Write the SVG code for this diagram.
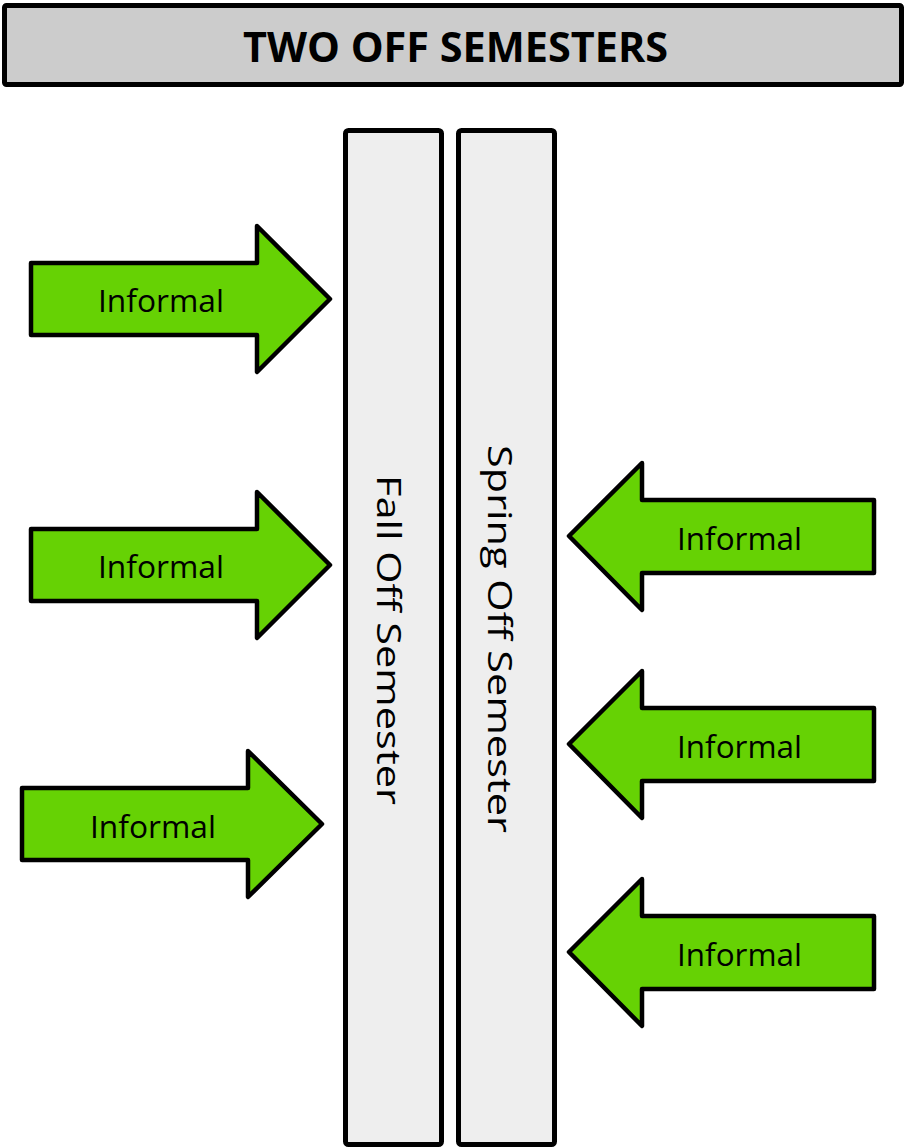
<svg xmlns="http://www.w3.org/2000/svg" width="906" height="1148" viewBox="0 0 906 1148">
<style>
.arrow{fill:#66d204;stroke:#000;stroke-width:4.5;stroke-linejoin:round}
.bar{fill:#eeeeee;stroke:#000;stroke-width:5}
.lbl{font-family:"Open Sans","DejaVu Sans",sans-serif;font-size:31px;fill:#000}
.vt{font-family:"Open Sans","DejaVu Sans",sans-serif;font-size:33px;fill:#000}
</style>
<rect width="906" height="1148" fill="#fff"/>
<g id="title">
<rect x="4.5" y="5.5" width="897" height="79" fill="#cccccc" stroke="#000" stroke-width="5" rx="2"/>
<text x="455.5" y="62" text-anchor="middle" textLength="425" lengthAdjust="spacingAndGlyphs" style="font-family:'Open Sans','DejaVu Sans',sans-serif;font-weight:bold;font-size:41px">TWO OFF SEMESTERS</text>
</g>
<g id="fall">
<rect class="bar" x="345.5" y="130.5" width="96" height="1014" rx="3"/>
<text class="vt" transform="translate(377,475) rotate(90)" textLength="330" lengthAdjust="spacingAndGlyphs">Fall Off Semester</text>
</g>
<g id="spring">
<rect class="bar" x="458.5" y="130.5" width="96" height="1014" rx="3"/>
<text class="vt" transform="translate(488,445) rotate(90)" textLength="388" lengthAdjust="spacingAndGlyphs">Spring Off Semester</text>
</g>
<g id="connectors">
<g id="arrow-l1">
<polygon class="arrow" points="31,263 257,263 257,226 330,299 257,372 257,335 31,335"/>
<text class="lbl" x="161" y="312" text-anchor="middle" textLength="126" lengthAdjust="spacingAndGlyphs">Informal</text>
</g>
<g id="arrow-l2">
<polygon class="arrow" points="31,529 257,529 257,492 330,565 257,638 257,601 31,601"/>
<text class="lbl" x="161" y="578" text-anchor="middle" textLength="126" lengthAdjust="spacingAndGlyphs">Informal</text>
</g>
<g id="arrow-l3">
<polygon class="arrow" points="22,788 248,788 248,751 322,824 248,897 248,860 22,860"/>
<text class="lbl" x="153" y="838" text-anchor="middle" textLength="126" lengthAdjust="spacingAndGlyphs">Informal</text>
</g>
<g id="arrow-r1">
<polygon class="arrow" points="874,500 642,500 642,463 569,536 642,610 642,573 874,573"/>
<text class="lbl" x="739.5" y="550" text-anchor="middle" textLength="125" lengthAdjust="spacingAndGlyphs">Informal</text>
</g>
<g id="arrow-r2">
<polygon class="arrow" points="874,708 642,708 642,671 569,744 642,818 642,781 874,781"/>
<text class="lbl" x="739.5" y="758" text-anchor="middle" textLength="125" lengthAdjust="spacingAndGlyphs">Informal</text>
</g>
<g id="arrow-r3">
<polygon class="arrow" points="874,916 642,916 642,879 569,952 642,1026 642,989 874,989"/>
<text class="lbl" x="739.5" y="966" text-anchor="middle" textLength="125" lengthAdjust="spacingAndGlyphs">Informal</text>
</g>
</g>
</svg>
